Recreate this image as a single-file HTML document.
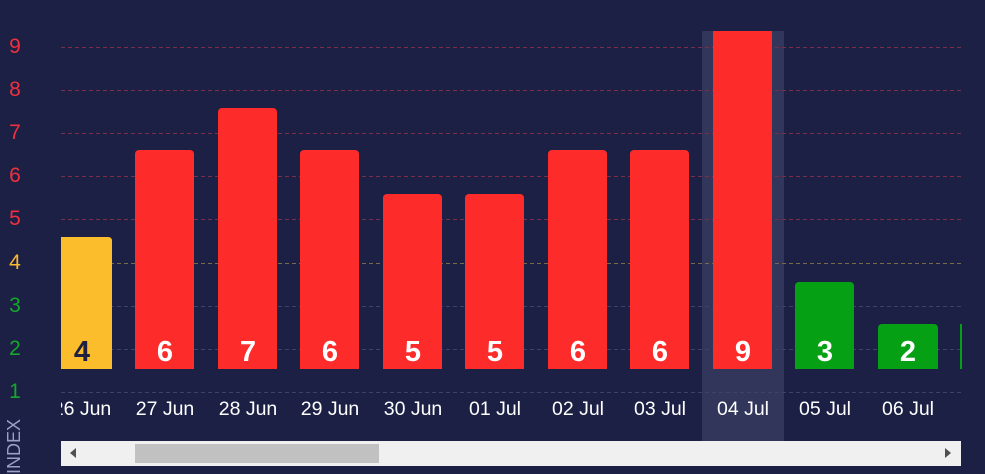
<!DOCTYPE html>
<html><head><style>
html,body{margin:0;padding:0;background:#1c2045;}
svg{display:block;font-family:"Liberation Sans",Arial,sans-serif;}
</style></head><body>
<svg width="985" height="474" viewBox="0 0 985 474">
<rect width="985" height="474" fill="#1c2045"/>
<rect x="702" y="31" width="82" height="410" fill="#31365a"/>
<g stroke-dasharray="4,3" stroke-width="1">
<line x1="61" x2="961" y1="47.5" y2="47.5" stroke="#7a2e4a"/>
<line x1="61" x2="961" y1="90.5" y2="90.5" stroke="#7a2e4a"/>
<line x1="61" x2="961" y1="133.5" y2="133.5" stroke="#7a2e4a"/>
<line x1="61" x2="961" y1="176.5" y2="176.5" stroke="#7a2e4a"/>
<line x1="61" x2="961" y1="219.5" y2="219.5" stroke="#7a2e4a"/>
<line x1="61" x2="961" y1="263.5" y2="263.5" stroke="#7a6a4a"/>
<line x1="61" x2="961" y1="306.5" y2="306.5" stroke="#3d4268"/>
<line x1="61" x2="961" y1="349.5" y2="349.5" stroke="#3d4268"/>
<line x1="61" x2="961" y1="392.5" y2="392.5" stroke="#3d4268"/>
</g>
<g font-size="21" text-anchor="middle">
<text x="15" y="53" fill="#f0303f">9</text>
<text x="15" y="96" fill="#f0303f">8</text>
<text x="15" y="139" fill="#f0303f">7</text>
<text x="15" y="182" fill="#f0303f">6</text>
<text x="15" y="225" fill="#f0303f">5</text>
<text x="15" y="269" fill="#f8bb30">4</text>
<text x="15" y="312" fill="#14a82a">3</text>
<text x="15" y="355" fill="#14a82a">2</text>
<text x="15" y="398" fill="#14a82a">1</text>
</g>
<g>
<path d="M61 237 H108 Q112 237 112 241 V369 H61 Z" fill="#fbbd2c"/>
<rect x="135" y="150" width="59" height="219" rx="4" fill="#fe2b2b"/><rect x="135" y="360" width="59" height="9" fill="#fe2b2b"/>
<rect x="218" y="108" width="59" height="261" rx="4" fill="#fe2b2b"/><rect x="218" y="360" width="59" height="9" fill="#fe2b2b"/>
<rect x="300" y="150" width="59" height="219" rx="4" fill="#fe2b2b"/><rect x="300" y="360" width="59" height="9" fill="#fe2b2b"/>
<rect x="383" y="194" width="59" height="175" rx="4" fill="#fe2b2b"/><rect x="383" y="360" width="59" height="9" fill="#fe2b2b"/>
<rect x="465" y="194" width="59" height="175" rx="4" fill="#fe2b2b"/><rect x="465" y="360" width="59" height="9" fill="#fe2b2b"/>
<rect x="548" y="150" width="59" height="219" rx="4" fill="#fe2b2b"/><rect x="548" y="360" width="59" height="9" fill="#fe2b2b"/>
<rect x="630" y="150" width="59" height="219" rx="4" fill="#fe2b2b"/><rect x="630" y="360" width="59" height="9" fill="#fe2b2b"/>
<rect x="713" y="31" width="59" height="338" fill="#fe2b2b"/>
<rect x="795" y="282" width="59" height="87" rx="4" fill="#06a014"/><rect x="795" y="360" width="59" height="9" fill="#06a014"/>
<rect x="878" y="324" width="60" height="45" rx="4" fill="#06a014"/><rect x="878" y="360" width="60" height="9" fill="#06a014"/>
<rect x="960" y="324" width="2" height="45" fill="#06a014"/>
</g>
<g font-size="29" font-weight="bold" text-anchor="middle" fill="#fff">
<text x="82" y="361" fill="#1f2142">4</text>
<text x="165" y="361">6</text>
<text x="248" y="361">7</text>
<text x="330" y="361">6</text>
<text x="413" y="361">5</text>
<text x="495" y="361">5</text>
<text x="578" y="361">6</text>
<text x="660" y="361">6</text>
<text x="743" y="361">9</text>
<text x="825" y="361">3</text>
<text x="908" y="361">2</text>
</g>
<svg x="61" y="390" width="900" height="30" overflow="hidden">
<g font-size="19.5" text-anchor="middle" fill="#fff">
<text x="21" y="25">26 Jun</text>
<text x="104" y="25">27 Jun</text>
<text x="187" y="25">28 Jun</text>
<text x="269" y="25">29 Jun</text>
<text x="352" y="25">30 Jun</text>
<text x="434" y="25">01 Jul</text>
<text x="517" y="25">02 Jul</text>
<text x="599" y="25">03 Jul</text>
<text x="682" y="25">04 Jul</text>
<text x="764" y="25">05 Jul</text>
<text x="847" y="25">06 Jul</text>
</g>
</svg>
<rect x="61" y="441" width="900" height="25" fill="#f0f0f0"/>
<rect x="135" y="444" width="244" height="19" fill="#c1c1c1"/>
<path d="M70 453 L76 448 L76 458 Z" fill="#505050"/>
<path d="M951 453 L945 448 L945 458 Z" fill="#505050"/>
<text transform="translate(20,474) rotate(-90)" font-size="18" fill="#9aa0c8">INDEX</text>
</svg>
</body></html>
